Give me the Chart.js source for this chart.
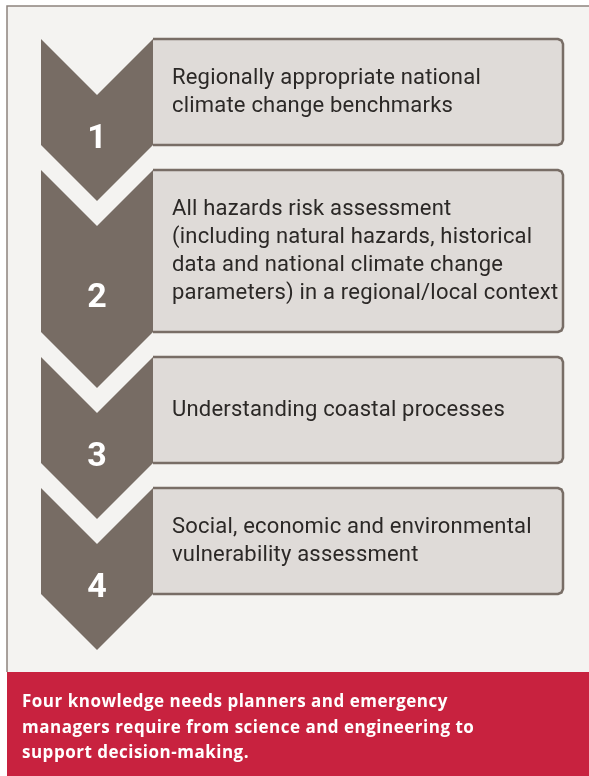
<!DOCTYPE html>
<html>
<head>
<meta charset="utf-8">
<script src="https://cdn.jsdelivr.net/npm/chart.js@4.4.1/dist/chart.umd.min.js"></script>
<style>
  html, body { margin: 0; padding: 0; background: #fff; }
  #wrap { width: 589px; height: 776px; }
</style>
</head>
<body>
<div id="wrap"><canvas id="chart"></canvas></div>
<script>
// the four knowledge needs, top to bottom
var stepNumbers = ['1', '2', '3', '4'];
var stepLines = [
  ['Regionally appropriate national', 'climate change benchmarks'],
  ['All hazards risk assessment', '(including natural hazards, historical', 'data and national climate change', 'parameters) in a regional/local context'],
  ['Understanding coastal processes'],
  ['Social, economic and environmental', 'vulnerability assessment']
];
var captionLines = [
  'Four knowledge needs planners and emergency',
  'managers require from science and engineering to',
  'support decision-making.'
];

// layout in page units (axes run 0..589 and 0..776)
var W = 589, H = 776;
var frameLeft = 7, frameTop = 6, footerTop = 672;
var arrowLeft = 41, arrowRight = 153, boxRight = 563, radius = 5;
var firstTop = 39, gap = 25, lineGap = 28, minBox = 106, boxPad = 50;

var colors = {
  page: '#f4f3f1',
  frame: '#8d847e',
  arrow: '#776c64',
  box: '#dfdbd8',
  boxLine: '#786d66',
  text: '#2b2826',
  footer: '#c8223f'
};

// work out where each step sits from how many lines it has
var steps = [];
var cursor = firstTop;
stepLines.forEach(function (lines, i) {
  var h = Math.max(minBox, boxPad + lineGap * lines.length);
  steps.push({ num: stepNumbers[i], lines: lines, top: cursor, bottom: cursor + h });
  cursor += h + gap;
});

var datasets = [];
function add(ds) {
  datasets.push(Object.assign({
    pointRadius: 0, pointHoverRadius: 0, borderWidth: 0,
    borderColor: 'rgba(0,0,0,0)', fill: false, tension: 0
  }, ds));
  return datasets.length - 1;
}
// band between two edges
function band(upper, lower, color, order) {
  var u = add({ data: upper, order: order });
  add({ data: lower, order: order, fill: u, backgroundColor: color });
}

// page background, footer and frame line
band([{x: frameLeft, y: frameTop}, {x: W, y: frameTop}],
     [{x: frameLeft, y: footerTop}, {x: W, y: footerTop}], colors.page, 40);
band([{x: frameLeft, y: footerTop}, {x: W, y: footerTop}],
     [{x: frameLeft, y: H}, {x: W, y: H}], colors.footer, 40);
add({ data: [{x: frameLeft, y: footerTop}, {x: frameLeft, y: frameTop}, {x: W, y: frameTop}],
      borderColor: colors.frame, borderWidth: 1.5, order: 30 });

var mid = (arrowLeft + arrowRight) / 2, depth = (arrowRight - arrowLeft) / 2;
steps.forEach(function (s) {
  // chevron
  band([{x: arrowLeft, y: s.top}, {x: mid, y: s.top + depth}, {x: arrowRight, y: s.top}],
       [{x: arrowLeft, y: s.bottom}, {x: mid, y: s.bottom + depth}, {x: arrowRight, y: s.bottom}],
       colors.arrow, 10);
  // box
  band([{x: arrowRight, y: s.top}, {x: boxRight - radius, y: s.top},
        {x: boxRight - radius * 0.3, y: s.top + radius * 0.3}, {x: boxRight, y: s.top + radius}],
       [{x: arrowRight, y: s.bottom}, {x: boxRight - radius, y: s.bottom},
        {x: boxRight - radius * 0.3, y: s.bottom - radius * 0.3}, {x: boxRight, y: s.bottom - radius}],
       colors.box, 10);
  add({ data: [{x: arrowRight, y: s.top}, {x: boxRight - radius, y: s.top},
               {x: boxRight - radius * 0.3, y: s.top + radius * 0.3}, {x: boxRight, y: s.top + radius},
               {x: boxRight, y: s.bottom - radius}, {x: boxRight - radius * 0.3, y: s.bottom - radius * 0.3},
               {x: boxRight - radius, y: s.bottom}, {x: arrowRight, y: s.bottom}],
        borderColor: colors.boxLine, borderWidth: 2.5, order: 5 });
});

var textPlugin = {
  id: 'stepText',
  afterDatasetsDraw: function (chart) {
    var ctx = chart.ctx, x = chart.scales.x, y = chart.scales.y;
    ctx.save();
    ctx.textBaseline = 'middle';
    steps.forEach(function (s) {
      // step number
      ctx.fillStyle = '#ffffff';
      ctx.font = 'bold 34px Roboto';
      ctx.letterSpacing = '0px';
      ctx.textAlign = 'center';
      var ny = (s.top + depth + s.bottom + depth) / 2 - 9;
      ctx.fillText(s.num, x.getPixelForValue(mid), y.getPixelForValue(ny));
      // step text
      ctx.fillStyle = colors.text;
      ctx.font = '22px Roboto';
      ctx.letterSpacing = '0.2px';
      ctx.textAlign = 'left';
      var c = (s.top + s.bottom) / 2 - (s.lines.length - 1) * lineGap / 2;
      s.lines.forEach(function (t, j) {
        ctx.fillText(t, x.getPixelForValue(172), y.getPixelForValue(c + j * lineGap));
      });
    });
    ctx.fillStyle = '#ffffff';
    ctx.font = 'bold 17px "Open Sans"';
    ctx.letterSpacing = '0.5px';
    ctx.textAlign = 'left';
    captionLines.forEach(function (t, j) {
      ctx.fillText(t, x.getPixelForValue(22), y.getPixelForValue(702.5 + j * 25.5));
    });
    ctx.restore();
  }
};

new Chart(document.getElementById('chart'), {
  type: 'line',
  data: { datasets: datasets },
  options: {
    responsive: true,
    maintainAspectRatio: false,
    animation: false,
    events: [],
    layout: { padding: 0 },
    plugins: { legend: { display: false }, tooltip: { enabled: false } },
    scales: {
      x: { type: 'linear', min: 0, max: W, display: false },
      y: { type: 'linear', min: 0, max: H, reverse: true, display: false }
    }
  },
  plugins: [textPlugin]
});
</script>
</body>
</html>
